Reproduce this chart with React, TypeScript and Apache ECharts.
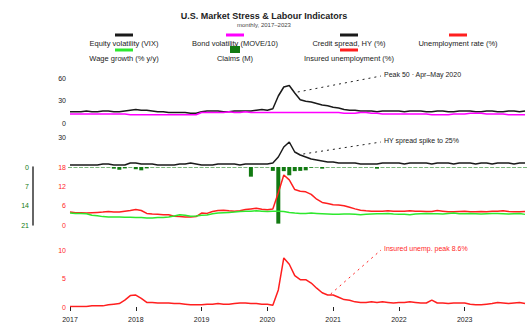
import React, { useEffect, useRef } from "react";
import * as echarts from "echarts";

// ---------- DATA ----------
const years = [2017, 2018, 2019, 2020, 2021, 2022, 2023];
const months: string[] = [];
for (const y of years) for (let m = 1; m <= 12; m++) months.push(`${y}-${String(m).padStart(2, "0")}`);

const seriesNames = [
  "Equity volatility (VIX)",
  "Bond volatility (MOVE/10)",
  "Credit spread, HY (%)",
  "Unemployment rate (%)",
  "Wage growth (% y/y)",
  "Claims (M)",
  "Insured unemployment (%)",
];

const vix = [
  15, 15, 15, 16, 15, 15, 16, 16, 15, 15, 16, 17,
  18, 17, 17, 16, 15, 15, 14, 14, 14, 14, 13, 13,
  15, 16, 16, 16, 15, 15, 16, 16, 16, 16, 17, 18,
  17, 19, 36, 48, 50, 40, 31, 29, 28, 26, 24, 23,
  21, 20, 18, 17, 17, 16, 16, 16, 15, 16, 16, 16,
  16, 15, 16, 16, 16, 15, 15, 16, 16, 15, 15, 16,
  16, 16, 15, 15, 16, 16, 15, 15, 16, 16, 15, 16,
];
const move = [
  12, 12, 12, 12, 12, 12, 12, 12, 12, 12, 12, 11,
  11, 11, 11, 11, 11, 11, 11, 11, 11, 11, 11, 11,
  14, 14, 14, 14, 14, 15, 14, 14, 15, 14, 14, 14,
  14, 14, 14, 14, 14, 14, 14, 14, 14, 14, 14, 14,
  14, 14, 13, 13, 13, 14, 14, 13, 13, 12, 12, 12,
  12, 12, 12, 12, 12, 12, 11, 11, 11, 11, 12, 12,
  12, 13, 13, 13, 12, 12, 12, 12, 11, 11, 11, 11,
];
const hySpread = [
  2, 2, 2, 2, 2, 2, 3, 3, 2, 2, 2, 4,
  4, 3, 3, 3, 2, 2, 2, 2, 3, 3, 4, 3,
  2, 2, 2, 3, 3, 3, 3, 2, 3, 3, 3, 3,
  3, 4, 10, 20, 25, 15, 12, 10, 8, 7, 6, 5,
  5, 4, 4, 4, 4, 3, 3, 3, 3, 4, 4, 4,
  4, 3, 4, 4, 4, 4, 3, 4, 4, 4, 3, 4,
  4, 4, 3, 4, 4, 3, 4, 4, 4, 3, 4, 4,
];
const unemployment = [
  4.0, 3.8, 3.8, 3.7, 3.8, 3.9, 4.0, 4.2, 4.0, 4.0, 4.3, 4.5,
  4.8, 4.5, 3.6, 3.4, 3.3, 3.2, 3.2, 2.7, 2.6, 2.5, 2.5, 2.6,
  3.7, 3.6, 4.2, 4.5, 4.6, 4.4, 4.3, 4.4, 4.8, 5.0, 5.2, 4.9,
  4.7, 5.0, 10.0, 15.5, 14.0, 11.0, 10.5, 10.3, 9.5, 8.0, 7.0, 6.7,
  6.3, 6.2, 6.0, 5.5, 5.0, 4.6, 4.4, 4.3, 4.3, 4.3, 4.4, 4.3,
  4.3, 4.3, 4.4, 4.3, 4.3, 4.2, 4.2, 4.5, 4.3, 4.1, 4.1, 4.2,
  4.3, 4.1, 4.1, 4.2, 4.1, 4.3, 4.3, 4.4, 4.2, 4.1, 4.1, 4.2,
];
const wageGrowth = [
  3.7, 3.6, 3.6, 3.5, 3.0, 2.9, 2.6, 2.5, 2.5, 2.5, 2.4, 2.4,
  2.3, 2.3, 2.2, 2.2, 2.3, 2.3, 2.5, 2.8, 3.2, 3.0, 2.7, 2.8,
  3.0, 3.1, 3.5, 3.7, 3.8, 3.9, 4.0, 4.2, 4.3, 4.3, 4.4, 4.3,
  4.2, 4.3, 4.3, 4.2, 3.9, 3.7, 3.6, 3.6, 3.7, 3.6, 3.5, 3.4,
  3.3, 3.3, 3.4, 3.4, 3.3, 3.2, 3.3, 3.4, 3.5, 3.5, 3.6, 3.4,
  3.3, 3.3, 3.2, 3.4, 3.5, 3.6, 3.5, 3.5, 3.4, 3.6, 3.7, 3.5,
  3.5, 3.6, 3.5, 3.4, 3.5, 3.6, 3.6, 3.5, 3.4, 3.5, 3.6, 3.3,
];
const claims = [
  0.2, 0.2, 0.2, 0.2, 0.2, 0.2, 0.2, 0.2, 0.6, 1.0, 0.5, 0.2,
  0.8, 1.2, 0.5, 0.2, 0.2, 0.2, 0.2, 0.2, 0.2, 0.2, 0.2, 0.2,
  0.2, 0.2, 0.2, 0.2, 0.2, 0.2, 0.2, 0.2, 0.2, 3.5, 0.2, 0.2,
  0.2, 1.4, 20.5, 1.5, 3.0, 1.5, 1.4, 1.2, 0.3, 0.2, 0.6, 0.2,
  0.2, 0.2, 0.2, 0.2, 0.2, 0.2, 0.2, 0.2, 0.6, 0.2, 0.2, 0.2,
  0.2, 0.2, 0.2, 0.2, 0.2, 0.2, 0.2, 0.2, 0.2, 0.2, 0.2, 0.2,
  0.2, 0.2, 0.2, 0.2, 0.2, 0.2, 0.2, 0.2, 0.2, 0.2, 0.2, 0.2,
];
const insuredUnemp = [
  0.1, 0.1, 0.1, 0.1, 0.2, 0.2, 0.2, 0.4, 0.5, 0.6, 1.2, 2.0,
  2.1, 1.5, 0.8, 0.8, 0.7, 0.7, 0.7, 0.6, 0.6, 0.5, 0.4, 0.4,
  0.4, 0.5, 0.5, 0.6, 0.5, 0.5, 0.6, 0.7, 0.7, 0.6, 0.6, 0.5,
  0.5, 0.3, 3.0, 8.6, 7.5, 5.5, 4.8, 4.8, 4.2, 3.3, 2.5, 2.1,
  2.1, 1.7, 1.3, 1.2, 0.9, 0.8, 0.8, 0.9, 0.8, 0.9, 0.8, 0.7,
  0.8, 0.8, 0.9, 0.8, 0.7, 0.7, 1.2, 0.7, 0.7, 0.6, 0.7, 0.7,
  0.7, 0.5, 0.4, 0.4, 0.5, 0.6, 0.8, 0.7, 0.6, 0.7, 0.8, 0.6,
];

const titleText = "U.S. Market Stress & Labour Indicators";
const subtitleText = "monthly, 2017–2023";
const annotationTexts = ["Peak 50 · Apr–May 2020", "HY spread spike to 25%", "Insured unemp. peak 8.6%"];

// ---------- STYLE ----------
const FONT = "Liberation Sans";
const colors = ["#1a1a1a", "#ff00ff", "#1a1a1a", "#ff1f1f", "#2ee82e", "#127a12", "#ff1f1f"];

export default function App() {
  const ref = useRef<HTMLDivElement>(null);
  useEffect(() => {
    const chart = echarts.init(ref.current!, null, { renderer: "svg" });
    const grids = [
      { left: 70, right: 3, top: 78, height: 45 },
      { left: 70, right: 3, top: 137, height: 30 },
      { left: 70, right: 3, top: 167, height: 58 },
      { left: 70, right: 3, top: 250, height: 57 },
    ];
    const xAxes = grids.map((_, i) => ({
      type: "category",
      gridIndex: i,
      data: months,
      boundaryGap: false,
      axisLine: { show: false },
      axisTick: {
        show: i === 3,
        length: 4,
        interval: (idx: number) => idx % 12 === 0,
        lineStyle: { color: "#222" },
      },
      axisLabel: {
        show: i === 3,
        interval: (idx: number) => idx % 12 === 0,
        formatter: (v: string) => v.slice(0, 4),
        fontSize: 7,
        fontFamily: FONT,
        color: "#222",
        margin: 9,
      },
      splitLine: { show: false },
    }));
    const lab = (color: string) => ({ fontSize: 7, fontFamily: FONT, color, margin: 4 });
    const yAxes = [
      { type: "value", gridIndex: 0, min: 0, max: 60, interval: 30, axisLabel: lab("#222"), splitLine: { show: false }, axisLine: { show: false }, axisTick: { show: false } },
      { type: "value", gridIndex: 1, min: 0, max: 30, interval: 30, axisLabel: { ...lab("#222"), showMinLabel: false }, splitLine: { show: false }, axisLine: { show: false }, axisTick: { show: false } },
      { type: "value", gridIndex: 2, min: 0, max: 18, interval: 6, axisLabel: lab(colors[3]), splitLine: { show: false }, axisLine: { show: false }, axisTick: { show: false } },
      {
        type: "value", gridIndex: 2, min: 0, max: 21, interval: 7, inverse: true, position: "left", offset: 37,
        axisLabel: lab(colors[5]), splitLine: { show: false },
        axisLine: { show: true, lineStyle: { color: "#333", width: 1.5 } }, axisTick: { show: false },
      },
      { type: "value", gridIndex: 3, min: 0, max: 10, interval: 5, axisLabel: lab(colors[6]), splitLine: { show: false }, axisLine: { show: false }, axisTick: { show: false } },
    ];
    const line = (idx: number, data: number[], xi: number, yi: number, w = 1.5) => ({
      name: seriesNames[idx],
      type: "line",
      xAxisIndex: xi,
      yAxisIndex: yi,
      data,
      showSymbol: false,
      lineStyle: { color: colors[idx], width: w },
      itemStyle: { color: colors[idx] },
    });
    const series: any[] = [
      line(0, vix, 0, 0),
      line(1, move, 0, 0),
      line(2, hySpread, 1, 1),
      line(3, unemployment, 2, 2),
      line(4, wageGrowth, 2, 2),
      {
        name: seriesNames[5], type: "bar", xAxisIndex: 2, yAxisIndex: 3, data: claims,
        barWidth: 4, itemStyle: { color: colors[5] },
      },
      line(6, insuredUnemp, 3, 4),
    ];
    chart.setOption({
      animation: false,
      backgroundColor: "#ffffff",
      textStyle: { fontFamily: FONT },
      title: {
        text: titleText,
        subtext: subtitleText,
        left: "center",
        top: 6,
        itemGap: 2,
        textStyle: { fontSize: 9, fontWeight: "bold", color: "#222", fontFamily: FONT },
        subtextStyle: { fontSize: 6, color: "#444", fontFamily: FONT },
      },
      grid: grids,
      xAxis: xAxes,
      yAxis: yAxes,
      series,
    });

    // legend (swatch above label) + annotations
    const cols = [124, 235, 349, 458];
    const legendPos = [
      [0, 0], [1, 0], [2, 0], [3, 0],
      [0, 1], [1, 1], [2, 1],
    ];
    const g: any[] = [];
    legendPos.forEach(([c, r], i) => {
      const cx = cols[c];
      const isBar = i === 5;
      g.push({
        type: "rect",
        shape: isBar ? { x: cx - 5, y: 46, width: 10, height: 7 } : { x: cx - 9, y: r === 0 ? 33.5 : 48.5, width: 18, height: 3 },
        style: { fill: colors[i] },
      });
      g.push({
        type: "text",
        x: cx,
        y: r === 0 ? 43.5 : 58.5,
        style: {
          text: seriesNames[i], fill: "#222", fontSize: 7.5, fontFamily: FONT,
          align: "center", verticalAlign: "middle", textAlign: "center", textVerticalAlign: "middle",
        },
      });
    });
    const ann = (xi: number, yi: number, idx: number, val: number, tx: number, ty: number, text: string, color: string) => {
      const p = chart.convertToPixel({ xAxisIndex: xi, yAxisIndex: yi } as any, [idx, val]) as number[];
      g.push({
        type: "line",
        shape: { x1: p[0] + 3, y1: p[1] - 1, x2: tx - 3, y2: ty + 2 },
        style: { stroke: color, lineWidth: 1, lineDash: [2, 4] },
      });
      g.push({
        type: "text", x: tx, y: ty,
        style: {
          text, fill: color, fontSize: 7, fontFamily: FONT,
          align: "left", verticalAlign: "middle", textAlign: "left", textVerticalAlign: "middle",
        },
      });
    };
    ann(0, 0, 41, vix[41], 384, 74, annotationTexts[0], "#222");
    ann(1, 1, 42, hySpread[42], 384, 140, annotationTexts[1], "#222");
    ann(3, 4, 47, insuredUnemp[47], 384, 248, annotationTexts[2], colors[6]);
    chart.setOption({ graphic: g });

    return () => chart.dispose();
  }, []);
  return <div ref={ref} style={{ position: "fixed", left: 0, top: 0, width: 528, height: 331 }} />;
}
